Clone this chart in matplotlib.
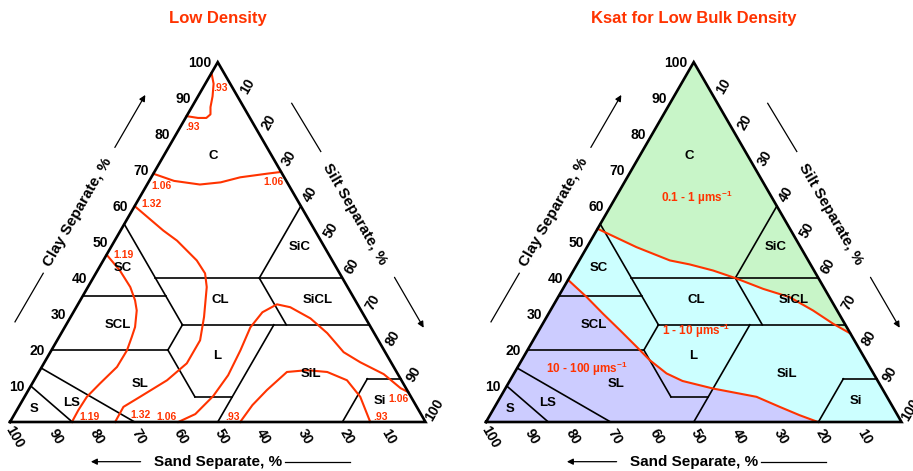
import numpy as np
import matplotlib
matplotlib.use("Agg")
import matplotlib.pyplot as plt

plt.rcParams['font.family'] = ['Liberation Sans', 'DejaVu Sans']
plt.rcParams['mathtext.fontset'] = 'custom'
plt.rcParams['mathtext.rm'] = 'Liberation Sans:bold'
plt.rcParams['mathtext.default'] = 'rm'

RED = '#ff3300'
S3 = np.sqrt(3) / 2
K = 4.155  # pixels per triangle unit

tick_vals = [10, 20, 30, 40, 50, 60, 70, 80, 90, 100]

# USDA class boundaries as (sand, clay) end points
class_lines = [
    [(45, 55), (45, 27)],
    [(45, 40), (0, 40)],
    [(20, 40), (0, 60)],
    [(20, 40), (20, 27)],
    [(65, 35), (45, 35)],
    [(45, 27), (0, 27)],
    [(80, 20), (52, 20)],
    [(45, 27), (52, 20)],
    [(52, 20), (52, 7)],
    [(52, 7), (43, 7)],
    [(50, 0), (23, 27)],
    [(20, 0), (8, 12)],
    [(8, 12), (0, 12)],
    [(70, 0), (85, 15)],
    [(85, 0), (90, 10)],
]
class_names = ['C', 'SiC', 'SC', 'CL', 'SiCL', 'SCL', 'L', 'SL', 'SiL', 'Si', 'LS', 'S']
class_pos = [(14, 74), (6, 48.5), (51.5, 42.7), (32.5, 33.8), (9, 33.8), (60.5, 26.9),
             (41, 18.3), (63.5, 10.5), (21, 13.3), (8, 5.8), (82.5, 5.3), (92.5, 3.6)]

# bulk density contours (left chart), sand / clay %
bd93_top_sand = [15, 12.5, 10.5, 9, 8, 6, 4, 3]
bd93_top_clay = [85, 84.5, 84.5, 85.5, 87.5, 90.5, 94, 97]
bd106_top_sand = [31, 27, 21.3, 16, 10.6, 3.7, 0]
bd106_top_clay = [69, 67, 66, 66.6, 68, 69, 69.5]
bd132_sand = [40, 36.5, 34.6, 32.6, 32.4, 33.9, 38.7, 42.9, 49.3, 56.4, 65.2, 70.6, 74.7]
bd132_clay = [60, 53.2, 50.4, 44.9, 41.3, 37.5, 29.2, 22.7, 16.3, 11.6, 7.0, 4.2, 0]
bd119_sand = [53.5, 52.5, 52.3, 53, 54, 56.7, 58.9, 61.9, 66.6, 73, 78, 81.9, 85.1]
bd119_clay = [46.5, 42.1, 37.5, 33.8, 31, 26.4, 23.6, 19.9, 15.3, 10.7, 7, 3.3, 0]
bd106_bot_sand = [59.5, 54.3, 47.5, 41, 34.6, 29, 24, 19.4, 16.6, 13.3, 11.3, 10, 7.4, 3.4, 1.3, 0]
bd106_bot_clay = [0, 2.2, 7.2, 13, 19.9, 26.3, 30.5, 32.7, 31.9, 28.8, 24.7, 19.4, 16.6, 13.3, 9.4, 8.3]
bd93_bot_sand = [44.6, 39.3, 33.7, 26.4, 21.3, 16.7, 13.1, 12.2, 13.3]
bd93_bot_clay = [0, 4.7, 8.9, 13.9, 14.4, 13.9, 11.6, 7, 0]

bd_labels = ['.93', '.93', '1.06', '1.06', '1.32', '1.19', '1.19', '1.32', '1.06', '.93', '.93', '1.06']
bd_label_pos = [(2.8, 92.9), (15, 82), (30.7, 65.5), (3.4, 66.6), (35.6, 60.6), (49.5, 46.5),
                (80, 1.5), (67.7, 1.9), (61.5, 1.5), (45.9, 1.3), (10.2, 1.3), (3.3, 6.3)]

# Ksat class borders (right chart)
ks_upper_sand = [46.3, 39.5, 33.3, 29.1, 24.3, 20, 14.8, 9.6, 5.8, 2.8, 0]
ks_upper_clay = [53.7, 48.6, 44.9, 43.8, 42.1, 40, 37, 34.7, 31, 27.3, 24.6]
ks_lower_sand = [60.5, 58.4, 56.8, 55, 53.3, 52, 49.8, 47, 40.7, 31.4, 27.2, 23.6, 20.1]
ks_lower_clay = [39.5, 34.7, 30.1, 25.5, 20.9, 17.2, 13.5, 11.4, 9.3, 7, 4.2, 1.9, 0]
ks_labels = ['0.1 - 1 µms$^{-1}$', '1 - 10 µms$^{-1}$', '10 - 100 µms$^{-1}$']
ks_label_pos = [(18.2, 62.3), (36.7, 25.2), (68.3, 14.7)]


def tern(sand, clay):
    sand = np.asarray(sand, float)
    clay = np.asarray(clay, float)
    silt = 100 - sand - clay
    return silt + clay / 2, clay * S3


def frame(ax, left_px, title):
    ax.set_xlim(-left_px / K, (456.5 - left_px) / K)
    ax.set_ylim(-49 / K, 422 / K)
    ax.axis('off')
    for (s0, c0), (s1, c1) in class_lines:
        x, y = tern([s0, s1], [c0, c1])
        ax.plot(x, y, color='black', lw=1.2, zorder=3)
    ax.plot([0, 100, 50, 0], [0, 0, 100 * S3, 0], color='black', lw=1.9,
            zorder=5, solid_joinstyle='miter')
    for name, (s, c) in zip(class_names, class_pos):
        x, y = tern(s, c)
        ax.text(x, y, name, ha='center', va='center', fontsize=9.5,
                fontweight='bold', zorder=6)
    fb = dict(fontsize=10, fontweight='bold')
    for v in tick_vals:
        ax.text(v / 2 - 1.5, v * S3 - 0.3, str(v), ha='right', va='center', **fb)
        ax.text(100 - v + 1.0, -3.6, str(v), ha='center', va='center',
                rotation=-60, **fb)
        ax.text(50 + v / 2 + 2.2, (100 - v) * S3 + 2.9, str(v), ha='center',
                va='center', rotation=60, **fb)
    ft = dict(fontsize=11, fontweight='bold', ha='center', va='center')
    ax.text(16.4, 50.5, 'Clay Separate, %', rotation=60, **ft)
    ax.text(83.0, 50.1, 'Silt Separate, %', rotation=-60, **ft)
    ax.text(50.1, -9.6, 'Sand Separate, %', **ft)
    arr = dict(arrowstyle='-|>', color='black', lw=0.9, mutation_scale=9)
    ax.annotate('', xy=(32.9, 79.3), xytext=(24.9, 65.5), arrowprops=arr)
    ax.plot([1.2, 8.0], [24.1, 35.8], color='black', lw=0.9)
    ax.plot([67.8, 74.8], [76.7, 65.1], color='black', lw=0.9)
    ax.annotate('', xy=(99.9, 22.1), xytext=(92.2, 35.4), arrowprops=arr)
    ax.annotate('', xy=(18.8, -9.55), xytext=(32.1, -9.55), arrowprops=arr)
    ax.plot([66.2, 81.8], [-9.55, -9.55], color='black', lw=0.9)
    ax.text(50, 97.0, title, color=RED, fontsize=12, fontweight='bold',
            ha='center', va='center')


fig = plt.figure(figsize=(9.13, 4.71), dpi=100)
ax1 = fig.add_axes([0, 0, 0.5, 1])
ax2 = fig.add_axes([0.5, 0, 0.5, 1])

# left: bulk density contours
frame(ax1, 10, 'Low Density')
for s, c in [(bd93_top_sand, bd93_top_clay), (bd106_top_sand, bd106_top_clay),
             (bd132_sand, bd132_clay), (bd119_sand, bd119_clay),
             (bd106_bot_sand, bd106_bot_clay), (bd93_bot_sand, bd93_bot_clay)]:
    x, y = tern(s, c)
    ax1.plot(x, y, color=RED, lw=1.5, zorder=4, solid_joinstyle='round')
for lab, (s, c) in zip(bd_labels, bd_label_pos):
    x, y = tern(s, c)
    ax1.text(x, y, lab, color=RED, fontsize=7.5, fontweight='bold',
             ha='center', va='center', zorder=6)

# right: Ksat zones
frame(ax2, 29.5, 'Ksat for Low Bulk Density')
ax2.fill([0, 100, 50], [0, 0, 100 * S3], color='#ccccff', zorder=1, lw=0)
xl, yl = tern(ks_lower_sand, ks_lower_clay)
ax2.fill(np.r_[xl, 100, 50], np.r_[yl, 0, 100 * S3], color='#ccffff', zorder=1, lw=0)
xu, yu = tern(ks_upper_sand, ks_upper_clay)
ax2.fill(np.r_[xu, 50], np.r_[yu, 100 * S3], color='#c8f5c8', zorder=1, lw=0)
ax2.plot(xl, yl, color=RED, lw=1.5, zorder=4, solid_joinstyle='round')
ax2.plot(xu, yu, color=RED, lw=1.5, zorder=4, solid_joinstyle='round')
for lab, (s, c) in zip(ks_labels, ks_label_pos):
    x, y = tern(s, c)
    ax2.text(x, y, lab, color=RED, fontsize=8.5, fontweight='bold',
             ha='center', va='center', zorder=6)

fig.savefig('out.png', dpi=100)
